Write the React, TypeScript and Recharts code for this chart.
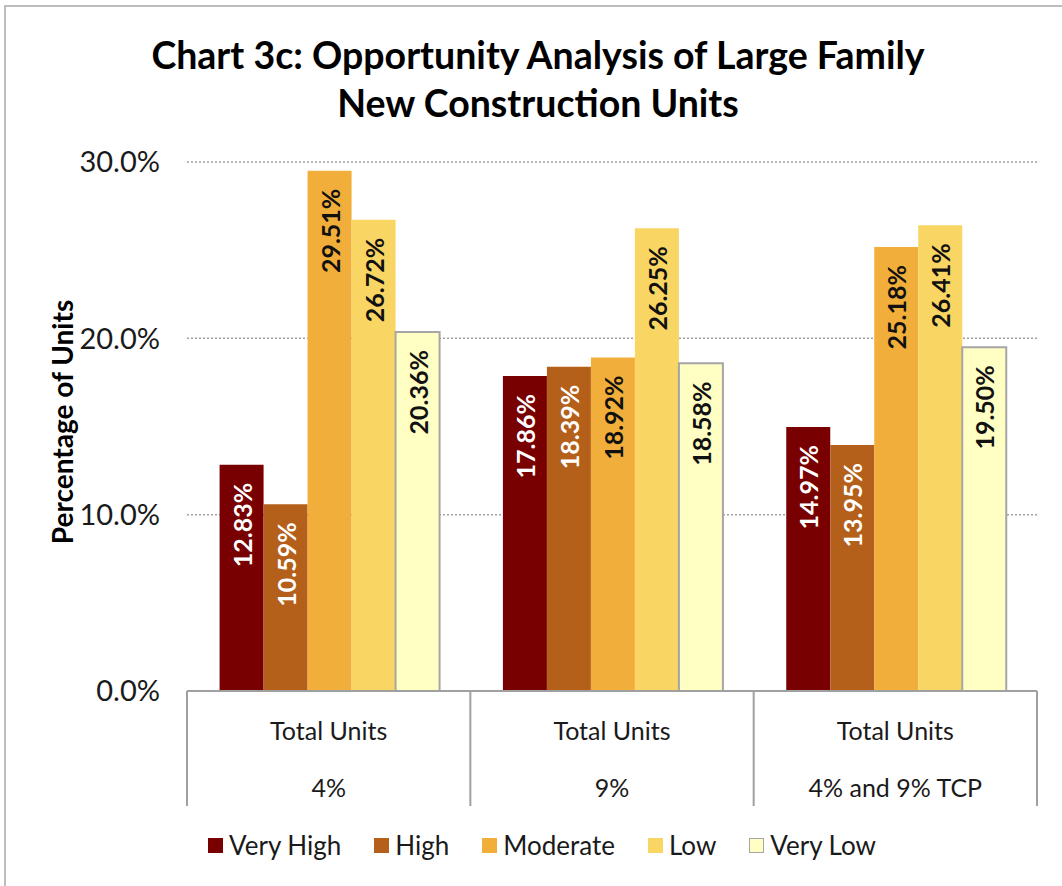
import { BarChart, Bar, XAxis, YAxis, CartesianGrid, LabelList } from "recharts"

const categories = ["4%", "9%", "4% and 9% TCP"]
const topTier = "Total Units"
const seriesNames = ["Very High", "High", "Moderate", "Low", "Very Low"]
const veryHigh = [12.83, 17.86, 14.97]
const high = [10.59, 18.39, 13.95]
const moderate = [29.51, 18.92, 25.18]
const low = [26.72, 26.25, 26.41]
const veryLow = [20.36, 18.58, 19.5]
const yTicks = [0, 10, 20, 30]

const keys = ["veryHigh", "high", "moderate", "low", "veryLow"]
const fills = ["#780000", "#B45F1A", "#F2AE3A", "#F9D563", "#FFFEC3"]
const strokes = ["none", "none", "none", "none", "#A6A6A6"]
const labelFills = ["#ffffff", "#ffffff", "#111111", "#111111", "#111111"]

const data = categories.map((c, i) => ({
  cat: c,
  veryHigh: veryHigh[i],
  high: high[i],
  moderate: moderate[i],
  low: low[i],
  veryLow: veryLow[i],
}))

const W = 1062
const H = 886
const margin = { top: 162, right: 25, bottom: 80, left: 107 }
const yAxisW = 80
const xAxisH = 115
const plotW = W - margin.left - margin.right - yAxisW
const font = "Lato, 'Open Sans', sans-serif"

const barLabel = (color: string) => (props: any) => {
  const cx = Number(props.x) + Number(props.width) / 2
  const ty = Number(props.y) + 18
  return (
    <text x={cx} y={ty} transform={`rotate(-90 ${cx} ${ty})`} textAnchor="end" dominantBaseline="central"
          fill={color} fontFamily={font} fontWeight={700} fontSize={25}>
      {Number(props.value).toFixed(2)}%
    </text>
  )
}

function CatTick(props: any) {
  const { x, y, payload, index } = props
  const half = plotW / categories.length / 2
  const last = index === categories.length - 1
  return (
    <g>
      <line x1={x - half} x2={x - half} y1={y} y2={y + xAxisH} stroke="#A0A0A0" strokeWidth={2} />
      {last && <line x1={x + half} x2={x + half} y1={y} y2={y + xAxisH} stroke="#A0A0A0" strokeWidth={2} />}
      <text x={x} y={y + 39} textAnchor="middle" dominantBaseline="central" fill="#1a1a1a" fontFamily={font} fontSize={25}>{topTier}</text>
      <text x={x} y={y + 96} textAnchor="middle" dominantBaseline="central" fill="#1a1a1a" fontFamily={font} fontSize={25}>{payload.value}</text>
    </g>
  )
}

export default function App() {
  return (
    <div style={{ position: "absolute", left: 0, top: 0, width: W, height: H, overflow: "hidden", background: "#fff", fontFamily: font }}>
      <div style={{ position: "absolute", left: 4, top: 5, width: W + 20, height: H + 20, border: "2px solid #BDBDBD", boxSizing: "border-box" }} />

      <div style={{ position: "absolute", left: 0, top: 31, width: 1076, textAlign: "center", fontWeight: 700, fontSize: 37.5, lineHeight: "48px", color: "#000" }}>
        Chart 3c: Opportunity Analysis of Large Family<br />New Construction Units
      </div>

      <div style={{ position: "absolute", left: 62, top: 422, width: 0, height: 0 }}>
        <div style={{ position: "absolute", transform: "translate(-50%, -50%) rotate(-90deg)", whiteSpace: "nowrap", fontWeight: 700, fontSize: 28, color: "#000" }}>
          Percentage of Units
        </div>
      </div>

      <div style={{ position: "absolute", left: 0, top: 0 }}>
        <BarChart width={W} height={H} data={data} margin={margin} barCategoryGap="11.5%" barGap={0}>
          <CartesianGrid vertical={false} stroke="#A0A0A0" strokeDasharray="2 2" strokeWidth={1.5} />
          <XAxis dataKey="cat" height={xAxisH} axisLine={{ stroke: "#A0A0A0", strokeWidth: 2 }} tickLine={false}
                 tickSize={0} tickMargin={0} tick={<CatTick />} interval={0} />
          <YAxis width={yAxisW} domain={[0, 30]} ticks={yTicks} axisLine={false} tickLine={false} tickSize={0} tickMargin={27}
                 tickFormatter={(v: number) => `${v.toFixed(1)}%`}
                 tick={{ fill: "#1a1a1a", fontSize: 29, fontFamily: font }} />
          {keys.map((k, i) => (
            <Bar key={k} dataKey={k} name={seriesNames[i]} fill={fills[i]} stroke={strokes[i]} strokeWidth={2} isAnimationActive={false}>
              <LabelList dataKey={k} content={barLabel(labelFills[i])} />
            </Bar>
          ))}
        </BarChart>
      </div>

      <div style={{ position: "absolute", left: 0, top: 829, width: 1084, display: "flex", justifyContent: "center", gap: 33, fontSize: 26, color: "#1a1a1a" }}>
        {seriesNames.map((n, i) => (
          <div key={n} style={{ display: "flex", alignItems: "center", gap: 6 }}>
            <span style={{ width: 15, height: 15, background: fills[i], border: `1px solid ${strokes[i] === "none" ? fills[i] : strokes[i]}`, boxSizing: "border-box" }} />
            <span>{n}</span>
          </div>
        ))}
      </div>
    </div>
  )
}
